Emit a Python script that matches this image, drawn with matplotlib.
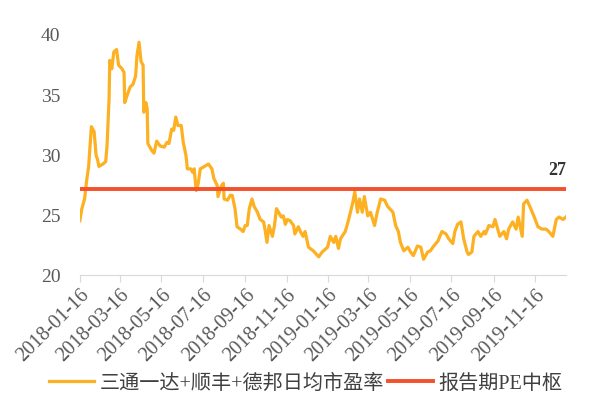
import matplotlib
matplotlib.use("Agg")
import matplotlib.pyplot as plt
import pandas as pd

# days after 2018-01-16
day_offset = [0, 3, 7, 10, 13, 17, 21, 24, 26, 28, 34, 38, 40, 43, 44, 47, 50, 54, 57, 62,
              65, 66, 69, 74, 78, 82, 84, 87, 90, 93, 94, 97, 99, 100, 106, 109, 113, 118, 124, 128,
              131, 135, 138, 141, 144, 149, 152, 156, 158, 163, 166, 168, 171, 174, 177, 183, 189, 194, 197, 202,
              203, 208, 211, 212, 217, 221, 224, 228, 231, 236, 240, 243, 246, 249, 253, 256, 261, 265, 270, 272,
              275, 278, 283, 286, 289, 292, 296, 299, 302, 305, 309, 314, 316, 321, 324, 328, 331, 336, 343, 351,
              356, 364, 368, 373, 376, 380, 383, 390, 395, 401, 404, 408, 411, 415, 418, 423, 427, 433, 437, 442,
              448, 452, 460, 464, 468, 471, 476, 482, 486, 490, 496, 501, 505, 511, 515, 520, 526, 532, 538, 542,
              548, 551, 555, 560, 564, 569, 571, 576, 579, 585, 589, 594, 596, 601, 607, 610, 614, 617, 623, 627,
              630, 636, 641, 644, 647, 650, 652, 657, 661, 667, 673, 679, 685, 689, 695, 700, 704, 710, 714]
pe = [24.5, 25.5, 26.3, 27.8, 29.0, 32.3, 31.9, 29.9, 29.6, 29.0, 29.2, 29.4, 30.7, 34.6, 37.8, 37.1, 38.5, 38.7, 37.4, 37.1,
      36.8, 34.3, 34.8, 35.6, 35.8, 36.5, 38.2, 39.3, 37.7, 37.4, 33.5, 34.3, 33.8, 30.9, 30.3, 30.1, 31.1, 30.7, 30.6, 31.0,
      30.9, 32.1, 32.0, 33.1, 32.4, 32.4, 31.0, 29.9, 28.8, 28.8, 28.5, 28.8, 27.0, 27.6, 28.8, 29.0, 29.2, 28.8, 28.0, 27.4,
      26.5, 27.4, 27.6, 26.3, 26.2, 26.6, 26.6, 25.5, 24.0, 23.8, 23.6, 24.1, 24.1, 25.5, 26.3, 25.7, 25.2, 24.6, 24.4, 23.8,
      22.7, 24.1, 23.2, 24.1, 25.5, 25.2, 24.8, 24.9, 24.2, 24.6, 24.5, 24.1, 23.4, 24.0, 23.6, 23.2, 23.6, 22.3, 22.0, 21.5,
      21.9, 22.3, 23.2, 22.7, 23.2, 22.2, 23.0, 23.6, 24.6, 26.0, 26.9, 25.2, 26.3, 25.2, 26.5, 24.9, 25.2, 24.1, 25.2, 26.3,
      26.2, 25.7, 25.2, 24.1, 23.6, 22.7, 22.0, 22.3, 21.9, 21.6, 22.4, 22.3, 21.3, 21.9, 22.0, 22.4, 22.8, 23.6, 23.4, 23.0,
      22.6, 23.6, 24.2, 24.4, 23.0, 21.9, 21.7, 21.9, 23.2, 23.6, 23.2, 23.6, 23.4, 24.1, 24.0, 24.6, 23.8, 23.2, 23.6, 23.0,
      23.8, 24.4, 23.8, 24.8, 24.0, 23.2, 25.9, 26.2, 25.7, 24.9, 24.0, 23.8, 23.8, 23.6, 23.2, 24.6, 24.8, 24.6, 24.8]
pe_center = 27.1
tick_dates = ['2018-01-16', '2018-03-16', '2018-05-16', '2018-07-16', '2018-09-16', '2018-11-16',
              '2019-01-16', '2019-03-16', '2019-05-16', '2019-07-16', '2019-09-16', '2019-11-16']
yticks = [20, 25, 30, 35, 40]

dates = pd.Timestamp('2018-01-16') + pd.to_timedelta(day_offset, unit='D')
ticks = pd.to_datetime(tick_dates)

serif = ['Liberation Serif', 'Noto Sans CJK SC']
plt.rcParams['font.family'] = serif

fig = plt.figure(figsize=(6, 4.1), dpi=100)
ax = fig.add_axes([0.133, 0.327, 0.81, 0.588])

l1, = ax.plot(dates, pe, color='#FDB022', lw=2.3, label='三通一达+顺丰+德邦日均市盈率')
l2, = ax.plot([dates[0], dates[-1]], [pe_center, pe_center], color='#F4502A', lw=2.8,
              label='报告期PE中枢')
ax.text(dates[-1], pe_center + 0.9, '27', ha='right', va='bottom', fontsize=13,
        fontweight='bold', color='#333333')

ax.set_xlim(dates[0], dates[-1])
ax.set_ylim(20, 40)
ax.set_yticks(yticks)
ax.set_xticks(ticks)
ax.set_xticklabels(tick_dates, rotation=45, ha='right', rotation_mode='anchor')
for s in ['top', 'right', 'left']:
    ax.spines[s].set_visible(False)
ax.spines['bottom'].set_color('#D9D9D9')
ax.tick_params(axis='y', length=0, pad=14, labelsize=14, labelcolor='#595959')
ax.tick_params(axis='x', length=5, color='#D9D9D9', labelsize=14.5, labelcolor='#595959', pad=2)

fig.legend(handles=[l1, l2], loc='lower center', bbox_to_anchor=(0.51, -0.005), ncol=2,
           frameon=False, fontsize=14.5, handlelength=2.2, handletextpad=0.3, columnspacing=0.2,
           labelcolor='#404040')

plt.savefig('out.png')
